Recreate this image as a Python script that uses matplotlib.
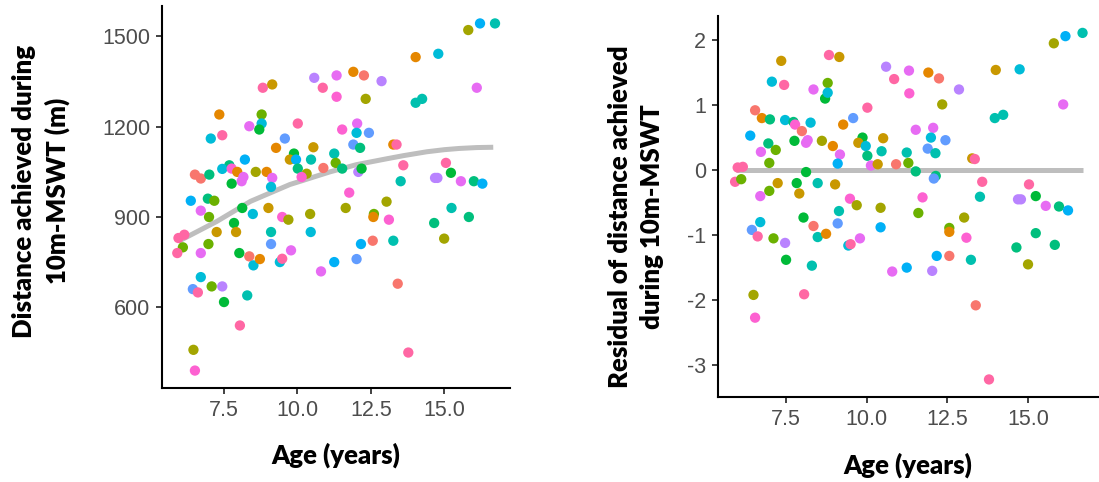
import matplotlib
matplotlib.use("Agg")
import matplotlib.pyplot as plt

plt.rcParams["axes.unicode_minus"] = False

# ggplot-style hue palette (participant colours)
PAL = {
    "S": "#F8766D", "O": "#E58700", "OO": "#C99800", "OL": "#A3A500",
    "YG": "#6BB100", "G": "#00BA38", "TG": "#00BF7D", "T": "#00C0AF",
    "C": "#00BCD8", "B": "#00B0F6", "CF": "#619CFF", "L": "#B983FF",
    "V": "#E76BF3", "M": "#FD61D1", "P": "#FF67A4",
}

# ---------------- Left panel: distance vs age ----------------
dist_age = [15.81, 16.21, 16.72, 14.02, 14.79, 11.90, 12.26, 12.86, 10.57, 11.33,
            10.86, 11.33, 12.32, 16.10, 14.02, 14.24, 8.82, 9.14, 7.34, 8.78,
            8.78, 8.70, 8.36, 7.05, 7.44, 10.01, 9.57, 9.27, 10.54, 9.88,
            9.74, 9.95, 10.01, 10.46, 10.31, 10.14, 10.88, 11.25, 11.30, 11.52,
            11.52, 12.03, 12.01, 12.43, 11.90, 12.13, 12.07, 12.18, 13.26, 13.37,
            13.60, 15.05, 15.22, 13.51, 14.68, 14.76, 15.56, 16.00, 16.29, 8.21,
            7.68, 7.44, 7.76, 7.95, 8.16, 8.10, 7.76, 8.58, 8.95, 9.14,
            9.10, 6.51, 6.71, 7.00, 6.37, 6.95, 7.17, 11.76, 13.03, 6.71,
            6.99, 8.12, 8.48, 9.01, 9.48, 9.69, 10.43, 10.45, 11.64, 12.60,
            12.58, 13.11, 15.24, 15.83, 14.65, 14.99, 13.26, 12.56, 12.16, 12.01,
            11.25, 10.80, 13.41, 13.77, 5.95, 6.15, 6.10, 5.91, 7.25, 6.97,
            6.71, 7.84, 7.91, 8.02, 8.36, 8.50, 8.72, 9.10, 9.10, 9.40,
            9.48, 9.78, 6.71, 6.44, 6.61, 7.08, 7.44, 7.50, 8.29, 8.04,
            6.46, 6.51]
dist_m = [1521, 1543, 1543, 1431, 1442, 1382, 1370, 1351, 1362, 1370,
          1329, 1299, 1292, 1329, 1279, 1292, 1329, 1340, 1240, 1240,
          1210, 1190, 1201, 1160, 1171, 1210, 1160, 1129, 1131, 1110,
          1090, 1090, 1060, 1090, 1043, 1032, 1062, 1110, 1079, 1060,
          1190, 1210, 1179, 1179, 1140, 1129, 1049, 1060, 1140, 1140,
          1071, 1079, 1046, 1018, 1029, 1029, 1018, 1018, 1010, 1090,
          1071, 1059, 1060, 1049, 1032, 1018, 1010, 1049, 1049, 1029,
          999, 1040, 1027, 1040, 953, 960, 953, 980, 950, 920,
          899, 929, 909, 929, 899, 890, 909, 849, 929, 909,
          899, 890, 929, 899, 879, 827, 820, 820, 809, 759,
          749, 718, 677, 448, 829, 840, 798, 779, 849, 809,
          779, 879, 849, 779, 768, 738, 759, 849, 809, 749,
          760, 788, 699, 659, 648, 668, 668, 616, 638, 538,
          457, 388]
dist_col = ["OL", "B", "T", "O", "C", "O", "S", "L", "L", "V",
            "P", "M", "OL", "V", "T", "T", "P", "OO", "O", "YG",
            "C", "G", "V", "C", "P", "P", "CF", "O", "OO", "G",
            "OO", "B", "TG", "T", "OL", "M", "S", "T", "YG", "TG",
            "M", "V", "C", "CF", "CF", "TG", "L", "G", "O", "P",
            "P", "P", "G", "T", "L", "L", "V", "TG", "B", "B",
            "TG", "C", "M", "O", "V", "V", "G", "OL", "O", "V",
            "C", "S", "S", "TG", "B", "TG", "YG", "M", "OL", "V",
            "YG", "G", "C", "OO", "M", "OL", "OL", "C", "OL", "YG",
            "O", "M", "T", "TG", "TG", "OL", "T", "S", "B", "CF",
            "B", "V", "S", "P", "P", "P", "YG", "P", "OO", "YG",
            "V", "G", "OO", "G", "S", "C", "O", "T", "CF", "C",
            "P", "V", "C", "CF", "P", "YG", "L", "G", "T", "P",
            "OL", "M"]

fit_age = [5.95, 7.25, 8.40, 9.74, 10.10, 11.10, 12.00, 13.00, 13.60, 14.40, 15.00, 15.50, 16.10, 16.66]
fit_dist = [818, 884, 951, 1007, 1018, 1049, 1073, 1092, 1103, 1116, 1123, 1127, 1130, 1131]

# ---------------- Right panel: residuals vs age ----------------
res_age = [5.92, 6.00, 6.16, 6.11, 6.39, 6.54, 6.75, 7.00, 6.95, 7.18,
           6.98, 6.72, 7.35, 7.06, 7.44, 7.47, 7.73, 7.78, 7.76, 7.99,
           8.26, 8.12, 8.17, 8.35, 8.61, 8.71, 8.79, 8.79, 8.83, 9.15,
           8.95, 9.17, 9.10, 9.27, 9.58, 9.87, 9.74, 9.97, 10.02, 10.02,
           10.13, 10.34, 10.51, 10.46, 10.60, 10.85, 10.91, 11.24, 11.29, 11.31,
           11.32, 11.52, 11.52, 11.91, 12.24, 12.34, 12.06, 11.99, 11.89, 12.13,
           12.14, 12.08, 12.86, 12.44, 13.27, 13.35, 13.58, 14.00, 13.97, 14.23,
           14.74, 15.03, 15.80, 16.16, 16.69, 16.09, 13.51, 14.69, 15.24, 11.73,
           9.48, 6.70, 6.98, 7.24, 7.83, 7.91, 8.12, 8.48, 9.02, 6.44,
           6.70, 6.62, 6.49, 6.54, 7.11, 7.47, 7.50, 8.04, 8.35, 8.06,
           8.48, 8.74, 8.30, 9.69, 9.14, 9.10, 9.43, 9.50, 9.79, 10.43,
           10.43, 10.79, 11.24, 11.60, 12.03, 12.17, 12.56, 12.56, 12.56, 13.02,
           13.09, 13.23, 13.38, 13.79, 14.78, 14.64, 15.00, 15.24, 15.55, 15.96,
           15.83, 16.24]
res_val = [-0.18, 0.04, 0.05, -0.14, 0.53, 0.92, 0.80, 0.78, 0.41, 0.31,
           0.11, 0.28, 1.68, 1.36, 1.31, 0.77, 0.74, 0.70, 0.45, 0.60,
           0.73, 0.42, 0.46, 1.24, 0.45, 1.10, 1.34, 1.19, 1.77, 1.74,
           0.37, 0.24, 0.10, 0.70, 0.80, 0.50, 0.42, 0.37, 0.22, 0.96,
           0.07, 0.09, 0.49, 0.29, 1.59, 1.40, 0.09, 0.27, 0.11, 1.53,
           1.18, 0.62, -0.02, 1.50, 1.41, 1.01, 0.65, 0.50, 0.33, 0.26,
           -0.09, -0.13, 1.24, 0.46, 0.18, 0.17, -0.18, 1.54, 0.80, 0.85,
           1.55, -0.22, 1.95, 2.06, 2.11, 1.01, -0.41, -0.45, -0.40, -0.42,
           -0.44, -0.40, -0.32, -0.20, -0.20, -0.36, -0.03, -0.20, -0.22, -0.92,
           -0.80, -1.02, -1.92, -2.27, -1.05, -1.12, -1.38, -0.73, -0.86, -1.91,
           -1.03, -0.98, -1.47, -0.54, -0.63, -0.82, -1.16, -1.14, -1.05, -0.58,
           -0.88, -1.56, -1.50, -0.66, -1.55, -1.32, -0.89, -0.95, -1.32, -0.73,
           -1.04, -1.38, -2.08, -3.22, -0.45, -1.19, -1.45, -0.97, -0.55, -0.56,
           -1.15, -0.62]
res_col = ["P", "P", "P", "YG", "B", "S", "O", "TG", "TG", "YG",
           "YG", "V", "OO", "C", "P", "C", "TG", "M", "G", "S",
           "C", "V", "V", "V", "OL", "G", "YG", "C", "P", "OO",
           "O", "V", "B", "O", "CF", "G", "OO", "C", "TG", "P",
           "V", "OO", "OO", "T", "L", "P", "S", "T", "YG", "V",
           "M", "V", "TG", "O", "S", "OL", "V", "C", "CF", "T",
           "TG", "CF", "L", "CF", "OO", "P", "P", "OO", "T", "T",
           "C", "P", "OL", "B", "T", "V", "T", "L", "G", "M",
           "M", "V", "YG", "OO", "G", "OO", "G", "T", "OO", "CF",
           "C", "P", "OL", "M", "YG", "L", "G", "G", "S", "P",
           "T", "O", "T", "OL", "T", "CF", "C", "P", "V", "OL",
           "B", "V", "B", "YG", "L", "B", "YG", "O", "S", "OL",
           "M", "T", "S", "P", "L", "TG", "OL", "TG", "V", "TG",
           "TG", "B"]

res_line_age = [5.95, 16.70]
res_line_val = [0.0, 0.0]

x_ticks = [7.5, 10.0, 12.5, 15.0]
x_ticklabels = ["7.5", "10.0", "12.5", "15.0"]
left_yticks = [600, 900, 1200, 1500]
right_yticks = [-3, -2, -1, 0, 1, 2]

TITLE_FONT = dict(family="Lato", weight="heavy", size=18.5, color="black")
TICK_FONT = "Liberation Sans"

fig = plt.figure(figsize=(10.99, 4.82), dpi=100)
axL = fig.add_axes([162 / 1099, 1 - 388 / 482, (510 - 162) / 1099, (388 - 6) / 482])
axR = fig.add_axes([718 / 1099, 1 - 397 / 482, (1099 - 718) / 1099, (397 - 16) / 482])


def style(ax):
    for s in ("top", "right"):
        ax.spines[s].set_visible(False)
    for s in ("left", "bottom"):
        ax.spines[s].set_linewidth(1.5)
        ax.spines[s].set_color("black")
    ax.tick_params(axis="both", length=4.5, width=1.3, color="#333333",
                   labelcolor="#4D4D4D", labelsize=15.5, pad=4)
    for lab in ax.get_xticklabels() + ax.get_yticklabels():
        lab.set_family(TICK_FONT)
    ax.set_facecolor("white")


# left
axL.plot(fit_age, fit_dist, color="#BEBEBE", lw=3.6, solid_capstyle="butt", zorder=1)
axL.scatter(dist_age, dist_m, s=55, c=[PAL[k] for k in dist_col], linewidths=0, zorder=2)
axL.set_xlim(5.39, 17.23)
axL.set_ylim(330, 1601)
axL.set_xticks(x_ticks)
axL.set_xticklabels(x_ticklabels)
axL.set_yticks(left_yticks)
style(axL)

# right
axR.plot(res_line_age, res_line_val, color="#BEBEBE", lw=3.6, solid_capstyle="butt", zorder=1)
axR.scatter(res_age, res_val, s=55, c=[PAL[k] for k in res_col], linewidths=0, zorder=2)
axR.set_xlim(5.39, 17.2)
axR.set_ylim(-3.49, 2.37)
axR.set_xticks(x_ticks)
axR.set_xticklabels(x_ticklabels)
axR.set_yticks(right_yticks)
style(axR)

# axis titles
fig.text(336 / 1099, 1 - 455 / 482, "Age (years)", ha="center", va="center", **TITLE_FONT)
fig.text(908 / 1099, 1 - 465 / 482, "Age (years)", ha="center", va="center", **TITLE_FONT)
fig.text(41 / 1099, 1 - 191 / 482, "Distance achieved during\n10m-MSWT (m)",
         rotation=90, ha="center", va="center", multialignment="center",
         linespacing=1.4, **TITLE_FONT)
fig.text(636 / 1099, 1 - 217 / 482, "Residual of distance achieved\nduring 10m-MSWT",
         rotation=90, ha="center", va="center", multialignment="center",
         linespacing=1.4, **TITLE_FONT)

fig.savefig("out.png", dpi=100, facecolor="white")
